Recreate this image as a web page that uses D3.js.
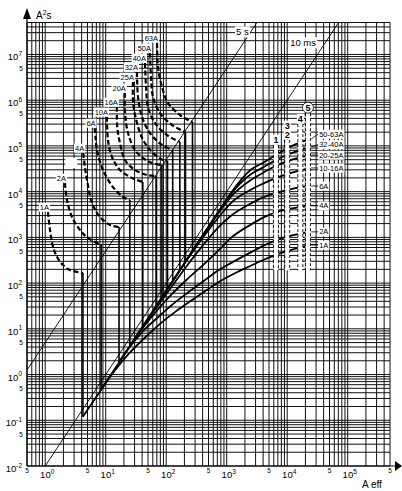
<!DOCTYPE html>
<html>
<head>
<meta charset="utf-8">
<script src="https://cdn.jsdelivr.net/npm/d3@7"></script>
<style>
  html, body { margin: 0; padding: 0; background: #fff; }
  svg { display: block; font-family: "Liberation Sans", Arial, Helvetica, sans-serif; }
</style>
</head>
<body>
<svg id="chart" width="402" height="491"></svg>
<script>
// ---- Data ---------------------------------------------------------------
// Rated currents of the miniature circuit breakers
const ratings = ["1A","2A","4A","6A","10A","16A","20A","25A","32A","40A","50A","63A"];

// Thermal release: I²t (A²s) against prospective current (A); the last point
// is where the magnetic release takes over.
const thermal1A  = [[1.11,3580],[1.20,1450],[1.35,615],[1.57,372],[1.97,248],[2.57,193],[4.2,166]];
const thermal2A  = [[2.12,15400],[2.29,6560],[2.77,2790],[3.76,1450],[5.10,968],[8.4,680]];
const thermal4A  = [[4.25,70000],[4.6,30000],[5.1,13500],[5.94,5640],[8.05,2790],[11.8,1860],[16.6,1680]];
const thermal6A  = [[6.55,246000],[6.8,150000],[7.18,81300],[9.02,29700],[13.2,12600],[19.3,7630],[25,6560]];
const thermal10A = [[10.5,429000],[10.9,135000],[12.7,57100],[17.2,29700],[27.2,19900],[41,16200]];
const thermal16A = [[15.3,708000],[15.5,259000],[17.2,116000],[20.8,49100],[30.5,29700],[48.2,23100],[68,22100]];
const thermal20A = [[20.7,1430000],[20.9,524000],[23.4,191000],[30.5,81300],[41.4,54300],[58.2,42300],[85,38200]];
const thermal25A = [[28.2,2490000],[28.4,867000],[32.9,317000],[41.4,135000],[60.5,70000],[88.6,49100],[105,46700]];
const thermal32A = [[32.9,4130000],[34.2,1170000],[39.8,429000],[54,191000],[85.3,105000],[128,81300]];
const thermal40A = [[44.6,6500000],[46.4,1940000],[50,708000],[65.3,317000],[103,173000],[168,122000]];
const thermal50A = [[54,10700000],[56.1,3210000],[60.5,1170000],[79,524000],[125,286000],[208,201000]];
const thermal63A = [[70.5,17800000],[73.2,5310000],[85.3,1940000],[107,867000],[169,474000],[272,333000]];
const thermalCurves = [thermal1A, thermal2A, thermal4A, thermal6A, thermal10A, thermal16A,
                       thermal20A, thermal25A, thermal32A, thermal40A, thermal50A, thermal63A];

// Let-through I²t in the current-limiting range, one curve per rating group
const groupNames = ["1A","2A","4A","6A","10-16A","20-25A","32-40A","50-63A"];
const groupOfRating = [0,1,2,3,4,4,5,5,6,6,7,7];
const let1A   = [[4.2,0.12],[8,0.42],[14,1.2],[25,3.0],[45,6.5],[80,13],[150,25],[250,40],[450,68],[775,110],[1500,175],[2500,240],[4000,320],[6300,410],[12000,540],[24000,680]];
const let2A   = [[8.4,0.48],[14,1.3],[25,4.0],[40,8.5],[70,17],[120,32],[220,60],[450,120],[775,200],[1150,270],[2500,470],[4000,650],[6300,850],[12000,1100],[24000,1320]];
const let4A   = [[16.6,1.87],[25,4.2],[40,10],[70,25],[120,55],[220,120],[450,280],[775,560],[1150,950],[2500,1900],[4000,2700],[6300,3500],[12000,4300],[24000,4900]];
const let6A   = [[25,4.25],[41,11.4],[70,30],[120,80],[220,240],[450,800],[775,1800],[1150,2900],[2500,5500],[4000,7500],[6300,9200],[12000,11500],[24000,13300]];
const let10_16 = [[41,11.4],[68,31.4],[105,75],[150,150],[220,320],[450,1200],[775,3000],[1150,5500],[2500,11000],[4000,15000],[6300,19500],[12000,26000],[24000,33000]];
const let20_25 = [[85,49],[105,75],[150,153],[220,330],[450,1350],[775,3800],[1150,7500],[2500,18000],[4000,26000],[6300,36000],[12000,50000],[24000,63000]];
const let32_40 = [[128,111],[168,192],[220,330],[450,1380],[775,4000],[1150,8500],[2500,24000],[4000,34000],[6300,48000],[12000,70000],[24000,95000]];
const let50_63 = [[208,294],[272,503],[450,1400],[775,4100],[1150,9000],[2500,30000],[4000,43000],[6300,62000],[12000,100000],[24000,142000]];
const letCurves = [let1A, let2A, let4A, let6A, let10_16, let20_25, let32_40, let50_63];

// Breaking-capacity limits (prospective current, A) and the I²t where each mark starts
const capacityCurrent = [6500, 10000, 16500, 22000];
const capacityTop = [105000, 135000, 300000, 520000];
const capacityBottom = 190;
const capacityMarks = [["1"], ["2","3"], ["4"], ["5"]];

// Constant-time reference lines I²t = t·I²
const refTimes = [5, 0.01];
const refLabels = ["5 s", "10 ms"];

// Axis ticks
const xDecades = [0,1,2,3,4,5];
const xFives = [0.5,5,50,500,5000,50000,500000];
const yDecades = [-2,-1,0,1,2,3,4,5,6,7];
const yFives = [0.05,0.5,5,50,500,5000,50000,500000,5000000];

// ---- Scales -------------------------------------------------------------
const svg = d3.select("#chart");
const x = d3.scaleLog().domain([0.5, 5e5]).range([27, 390]);
const y = d3.scaleLog().domain([0.01, 5e7]).range([466, 22.5]);
const [x0, x1] = x.range(), [y0, y1] = y.range();

svg.append("rect").attr("width", 402).attr("height", 491).attr("fill", "#fff");
svg.append("defs").append("clipPath").attr("id", "plot")
  .append("rect").attr("x", x0).attr("y", y1).attr("width", x1 - x0).attr("height", y0 - y1);

// ---- Log grid -----------------------------------------------------------
const gridX = [], gridY = [];
for (let e = -1; e <= 5; e++) for (let k = 1; k <= 9; k++) {
  const v = k * Math.pow(10, e); if (v >= 0.5 - 1e-9 && v <= 5e5 + 1e-6) gridX.push(v);
}
for (let e = -2; e <= 7; e++) for (let k = 1; k <= 9; k++) {
  const v = k * Math.pow(10, e); if (v >= 0.01 - 1e-12 && v <= 5e7 + 1e-3) gridY.push(v);
}
const grid = svg.append("g").attr("stroke", "#111").attr("stroke-width", 1);
grid.selectAll("line.v").data(gridX).join("line").attr("class", "v")
  .attr("x1", d => x(d)).attr("x2", d => x(d)).attr("y1", y0).attr("y2", y1);
grid.selectAll("line.h").data(gridY).join("line").attr("class", "h")
  .attr("y1", d => y(d)).attr("y2", d => y(d)).attr("x1", x0).attr("x2", x1);

const plot = svg.append("g").attr("clip-path", "url(#plot)");

// ---- Constant-time lines --------------------------------------------------
refTimes.forEach(t => {
  const pts = [[0.5, t * 0.25], [5e5, t * 2.5e11]];
  plot.append("line")
    .attr("x1", x(pts[0][0])).attr("y1", y(pts[0][1]))
    .attr("x2", x(pts[1][0])).attr("y2", y(pts[1][1]))
    .attr("stroke", "#000").attr("stroke-width", 0.9);
});

// ---- Curves ---------------------------------------------------------------
const lineSmooth = d3.line().x(d => x(d[0])).y(d => y(d[1])).curve(d3.curveMonotoneX);
const lineThermal = d3.line().x(d => x(d[0])).y(d => y(d[1])).curve(d3.curveCatmullRom.alpha(0.5));

// log-log interpolation along a let-through curve
function valueAt(curve, I) {
  for (let i = 1; i < curve.length; i++) {
    const [a, fa] = curve[i - 1], [b, fb] = curve[i];
    if (I <= b) {
      const t = (Math.log(I) - Math.log(a)) / (Math.log(b) - Math.log(a));
      return Math.exp(Math.log(fa) + t * (Math.log(fb) - Math.log(fa)));
    }
  }
  return curve[curve.length - 1][1];
}

plot.selectAll("path.let").data(letCurves).join("path").attr("class", "let")
  .attr("d", lineSmooth).attr("fill", "none").attr("stroke", "#000").attr("stroke-width", 1.8);

// magnetic release: drop from the thermal curve onto the let-through curve
thermalCurves.forEach((c, i) => {
  const [I, top] = c[c.length - 1];
  const bottom = valueAt(letCurves[groupOfRating[i]], I);
  plot.append("line").attr("x1", x(I)).attr("x2", x(I)).attr("y1", y(top)).attr("y2", y(bottom))
    .attr("stroke", "#000").attr("stroke-width", 1.6);
});

plot.selectAll("path.th").data(thermalCurves).join("path").attr("class", "th")
  .attr("d", lineThermal).attr("fill", "none").attr("stroke", "#000")
  .attr("stroke-width", 2.2).attr("stroke-dasharray", "5,2.6");

// ---- Breaking-capacity marks -----------------------------------------------
capacityCurrent.forEach((I, i) => {
  const cx = x(I), ty = y(capacityTop[i]), by = y(capacityBottom);
  plot.append("rect").attr("x", cx - 2.5).attr("y", ty).attr("width", 5).attr("height", by - ty).attr("fill", "#fff");
  [-2.5, 2.5].forEach(off => {
    plot.append("line").attr("x1", cx + off).attr("x2", cx + off).attr("y1", ty).attr("y2", by)
      .attr("stroke", "#000").attr("stroke-width", 0.9).attr("stroke-dasharray", "3,2");
  });
});

// ---- Text helpers ---------------------------------------------------------
function boxed(g, tx, ty, str, size, anchor, bold) {
  const grp = g.append("g");
  const t = grp.append("text").attr("x", tx).attr("y", ty).attr("dy", "0.35em")
    .attr("font-size", size).attr("text-anchor", anchor || "start")
    .attr("font-weight", bold ? "bold" : "normal").text(str);
  const b = t.node().getBBox();
  grp.insert("rect", "text").attr("x", b.x - 1).attr("y", b.y).attr("width", b.width + 2)
    .attr("height", b.height).attr("fill", "#fff");
  return grp;
}
const labels = svg.append("g");

// rating labels at the top of each thermal curve
thermalCurves.forEach((c, i) => {
  const px = x(c[0][0]), py = y(c[0][1]);
  boxed(labels, px + 1, py - 5, ratings[i], 7.5, "end");
});
// blank box beside the 4 A curve
{
  const c = thermal4A, px = x(c[0][0]), py = y(c[0][1]);
  labels.append("rect").attr("x", px - 18).attr("y", py + 5).attr("width", 12).attr("height", 10).attr("fill", "#fff");
}

// group labels at the right-hand end of the let-through curves
const ends = letCurves.map(c => c[c.length - 1]);
const labelY = ends.map(e => y(e[1]));
for (let i = 1; i < labelY.length; i++) labelY[i] = Math.min(labelY[i], labelY[i - 1] - 10.5);
ends.forEach((e, i) => {
  const ex = x(e[0]), ey = y(e[1]), lx = ex + 9;
  labels.append("line").attr("x1", ex + 1).attr("y1", ey).attr("x2", lx - 1).attr("y2", labelY[i])
    .attr("stroke", "#000").attr("stroke-width", 0.8);
  boxed(labels, lx, labelY[i], groupNames[i], 7.5, "start");
});

// breaking-capacity numbers
capacityCurrent.forEach((I, i) => {
  const cx = x(I);
  capacityMarks[i].forEach((m, j) => {
    const cy = y(capacityTop[i]) - 5.5 - j * 9;
    if (m === "5") {
      labels.append("circle").attr("cx", cx).attr("cy", cy).attr("r", 5.5)
        .attr("fill", "#fff").attr("stroke", "#000").attr("stroke-width", 0.8);
      labels.append("text").attr("x", cx).attr("y", cy).attr("dy", "0.35em").attr("text-anchor", "middle")
        .attr("font-size", 9).attr("font-weight", "bold").text(m);
    } else {
      boxed(labels, cx, cy, m, 9, "middle", true);
    }
  });
});

// constant-time line labels near the top
refTimes.forEach((t, i) => {
  const yy = i === 0 ? 32 : 43;
  const I = Math.sqrt(y.invert(yy) / t);
  const lx = x(I) - (i === 0 ? 2 : 9);
  boxed(labels, lx, yy, refLabels[i], 9.5, "end");
});

// ---- Axes -----------------------------------------------------------------
const ax = svg.append("g");
ax.append("line").attr("x1", x0).attr("x2", x0).attr("y1", y0).attr("y2", 14).attr("stroke", "#000").attr("stroke-width", 1.2);
ax.append("path").attr("d", `M${x0 - 4},19 L${x0},8 L${x0 + 4},19 Z`).attr("fill", "#000");
ax.append("line").attr("x1", x0).attr("x2", 397).attr("y1", y0).attr("y2", y0).attr("stroke", "#000").attr("stroke-width", 1.2);
ax.append("path").attr("d", `M395,${y0 - 5} L402,${y0} L395,${y0 + 5} Z`).attr("fill", "#000");

const aLab = ax.append("text").attr("x", 36).attr("y", 19).attr("font-size", 10);
aLab.append("tspan").text("A");
aLab.append("tspan").attr("font-size", 7).attr("dy", -4).text("2");
aLab.append("tspan").attr("dy", 4).text("s");
ax.append("text").attr("x", 362).attr("y", 488).attr("font-size", 10).text("A eff");

yDecades.forEach(e => {
  const t = ax.append("text").attr("x", 22).attr("y", y(Math.pow(10, e)) + 6)
    .attr("text-anchor", "end").attr("font-size", 9.5);
  t.append("tspan").text("10");
  t.append("tspan").attr("font-size", 6.5).attr("dy", -4.5).text(String(e));
});
ax.selectAll("text.y5").data(yFives).join("text").attr("class", "y5")
  .attr("x", 21).attr("y", d => y(d) + 2.5).attr("text-anchor", "middle")
  .attr("font-size", 6.5).text("5");

xDecades.forEach(e => {
  const t = ax.append("text").attr("x", x(Math.pow(10, e)) + 2).attr("y", 478)
    .attr("text-anchor", "middle").attr("font-size", 9.5);
  t.append("tspan").text("10");
  t.append("tspan").attr("font-size", 6.5).attr("dy", -4.5).text(String(e));
});
ax.selectAll("text.x5").data(xFives).join("text").attr("class", "x5")
  .attr("x", d => x(d)).attr("y", 473).attr("text-anchor", "middle")
  .attr("font-size", 6.5).text("5");
</script>
</body>
</html>
